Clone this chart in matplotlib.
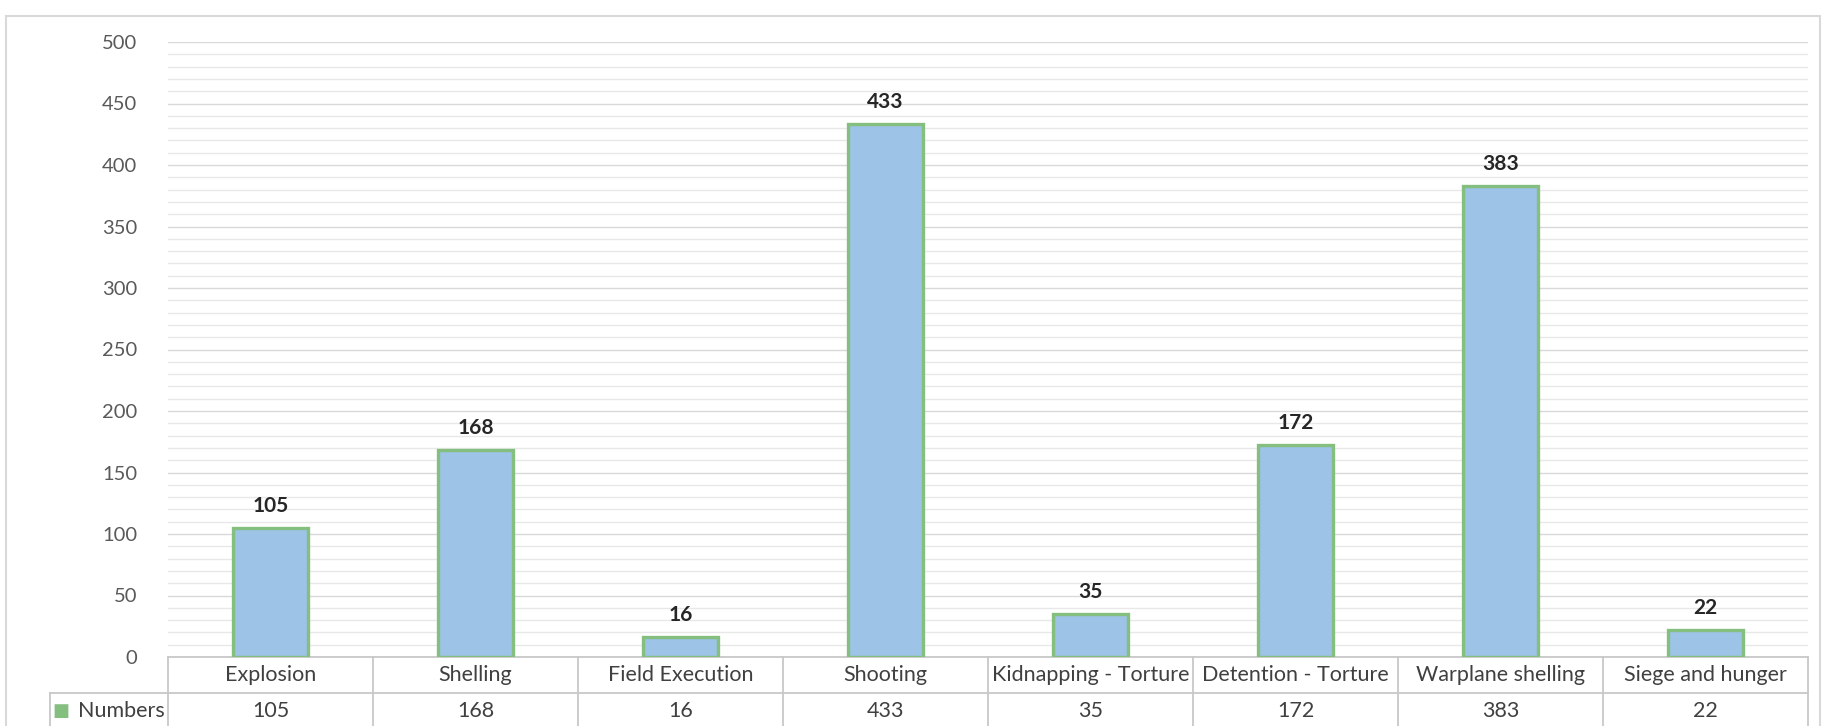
import matplotlib
matplotlib.use("Agg")
import matplotlib.pyplot as plt
from matplotlib.lines import Line2D
from matplotlib.patches import Rectangle
import matplotlib.transforms as mtransforms

categories = ["Explosion", "Shelling", "Field Execution", "Shooting",
              "Kidnapping - Torture", "Detention - Torture", "Warplane shelling",
              "Siege and hunger"]
values = [105, 168, 16, 433, 35, 172, 383, 22]
series_name = "Numbers"
yticks = [0, 50, 100, 150, 200, 250, 300, 350, 400, 450, 500]

plt.rcParams['font.family'] = ['Lato', 'DejaVu Sans']

W, H = 1823, 726
fig = plt.figure(figsize=(W / 100, H / 100), dpi=100)
fig.patch.set_facecolor('white')

# outer chart border
border = Rectangle((6 / W, -0.05), (1820 - 6) / W, (H - 16) / H + 0.05,
                   transform=fig.transFigure, fill=False,
                   edgecolor='#d9d9d9', linewidth=1.5)
fig.patches.append(border)

L, R, T, B = 168, 1808, 42, 657
ax = fig.add_axes([L / W, (H - B) / H, (R - L) / W, (B - T) / H])

x = list(range(len(categories)))
ax.bar(x, values, width=0.37, color='#9DC3E6', edgecolor='#84BF80',
       linewidth=2.4, zorder=3)

ax.set_xlim(-0.5, len(categories) - 0.5)
ax.set_ylim(0, 500)
ax.set_yticks(yticks)
ax.set_yticks(range(0, 501, 10), minor=True)
ax.tick_params(axis='y', which='both', length=0, pad=22, labelsize=14.5,
               labelcolor='#595959')
ax.tick_params(axis='x', which='both', length=0, labelbottom=False)
ax.grid(axis='y', which='major', color='#d9d9d9', linewidth=1.0, zorder=0)
ax.grid(axis='y', which='minor', color='#e8e8e8', linewidth=1.0, zorder=0)
for s in ax.spines.values():
    s.set_visible(False)

for xi, v in zip(x, values):
    ax.annotate(str(v), (xi, v), xytext=(0, 16), textcoords='offset points',
                ha='center', va='center', fontsize=15, fontweight='bold',
                color='#262626')

# data table below the plot
trans = mtransforms.blended_transform_factory(ax.transData, ax.transAxes)
rh = 36 / (B - T)
n = len(categories)
lc = '#c8c8c8'
xl = -0.5 - (L - 50) / ((R - L) / n)

def hline(x0, x1, y):
    ax.add_line(Line2D([x0, x1], [y, y], transform=trans, color=lc,
                       linewidth=1.3, clip_on=False))

def vline(xv, y0, y1):
    ax.add_line(Line2D([xv, xv], [y0, y1], transform=trans, color=lc,
                       linewidth=1.3, clip_on=False))

hline(-0.5, n - 0.5, 0)
hline(xl, n - 0.5, -rh)
hline(xl, n - 0.5, -2 * rh)
for i in range(n + 1):
    vline(i - 0.5, 0, -2 * rh)
vline(xl, -rh, -2 * rh)

for xi, c, v in zip(x, categories, values):
    ax.text(xi, -rh / 2, c, transform=trans, ha='center', va='center',
            fontsize=15.5, color='#404040')
    ax.text(xi, -1.5 * rh, str(v), transform=trans, ha='center', va='center',
            fontsize=15.5, color='#404040')

ax.text(xl + 0.01, -1.5 * rh, "\u25A0", transform=trans, ha='left',
        va='center', fontsize=13, color='#84BF80', family='DejaVu Sans')
ax.text(-0.515, -1.5 * rh, series_name, transform=trans, ha='right',
        va='center', fontsize=15.5, color='#404040')

fig.savefig("out.png", dpi=100, facecolor='white')
